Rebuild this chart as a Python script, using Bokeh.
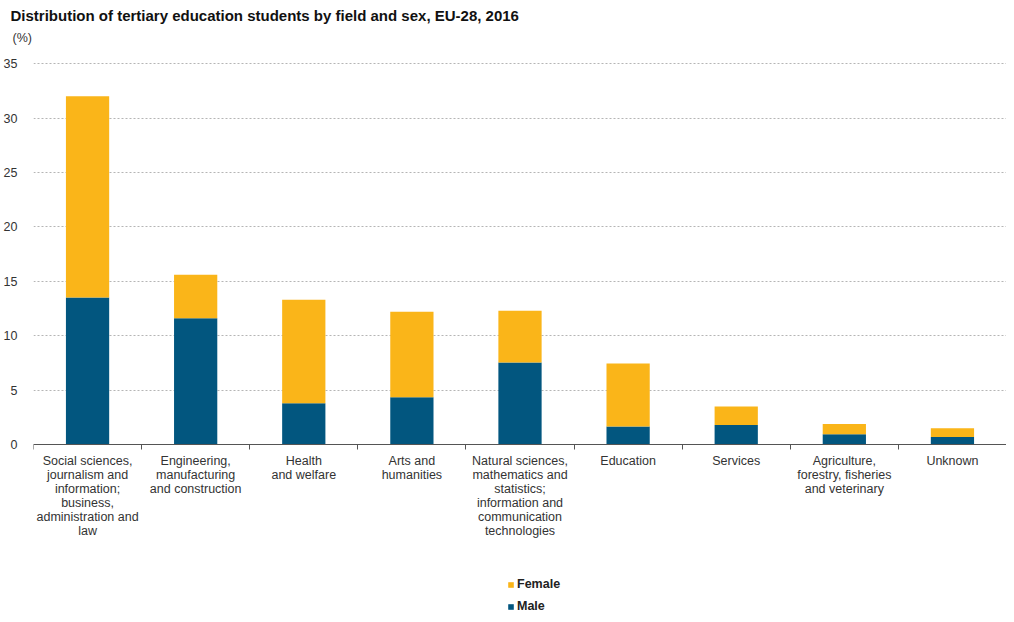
import numpy as np
from bokeh.plotting import figure
from bokeh.models import ColumnDataSource, FixedTicker, Legend, LegendItem, Title, Range1d
from bokeh.embed import file_html
from bokeh.resources import INLINE

categories = [
    "Social sciences,\njournalism and\ninformation;\nbusiness,\nadministration and\nlaw",
    "Engineering,\nmanufacturing\nand construction",
    "Health\nand welfare",
    "Arts and\nhumanities",
    "Natural sciences,\nmathematics and\nstatistics;\ninformation and\ncommunication\ntechnologies",
    "Education",
    "Services",
    "Agriculture,\nforestry, fisheries\nand veterinary",
    "Unknown",
]
male = [13.5, 11.6, 3.8, 4.35, 7.55, 1.65, 1.8, 0.95, 0.7]
female = [18.5, 4.0, 9.5, 7.85, 4.75, 5.8, 1.7, 0.95, 0.8]
y_ticks = [0, 5, 10, 15, 20, 25, 30, 35]

BLUE = "#02567f"
ORANGE = "#fab519"
FONT = "Liberation Sans"

n = len(categories)
x = (np.arange(n) + 0.5).tolist()
src = ColumnDataSource(dict(x=x, male=male, female=female))

# the frame reaches down to the legend area; the category axis is pinned at y=0
p = figure(frame_width=973, frame_height=551, x_range=Range1d(0, n), y_range=Range1d(-15.52, 35.1),
           output_backend="svg", toolbar_location=None,
           min_border_left=0, min_border_right=0, min_border_top=0, min_border_bottom=0)
p.outline_line_color = None
p.background_fill_color = "white"
p.border_fill_color = "white"

rs = p.vbar_stack(["male", "female"], x="x", width=0.4, color=[BLUE, ORANGE],
                  line_color=None, source=src)

# x axis: labels at category centres, minor ticks at boundaries
xa = p.xaxis[0]
xa.fixed_location = 0
xa.ticker = FixedTicker(ticks=x, minor_ticks=list(range(n + 1)))
xa.major_label_overrides = {float(v): c for v, c in zip(x, categories)}
xa.major_tick_out = 0
xa.major_tick_in = 0
xa.minor_tick_out = 5
xa.minor_tick_in = 0
xa.minor_tick_line_color = "#555555"
xa.axis_line_color = "#555555"
xa.major_label_text_font = FONT
xa.major_label_text_font_size = "12.5px"
xa.major_label_text_line_height = 1.0
xa.major_label_text_color = "#333333"
xa.major_label_standoff = 4

ya = p.yaxis[0]
ya.ticker = FixedTicker(ticks=y_ticks)
ya.axis_line_color = None
ya.major_tick_line_color = None
ya.minor_tick_line_color = None
ya.major_label_text_font = FONT
ya.major_label_text_font_size = "12.5px"
ya.major_label_text_color = "#333333"
ya.major_label_standoff = 10

p.xgrid.grid_line_color = None
p.ygrid.ticker = FixedTicker(ticks=y_ticks)
p.ygrid.grid_line_color = "#b5b5b5"
p.ygrid.grid_line_dash = "2 2"

p.title.text = "Distribution of tertiary education students by field and sex, EU-28, 2016"
p.title.text_font = FONT
p.title.text_font_size = "15px"
p.title.text_font_style = "bold"
p.title.text_color = "#111111"
p.title.align = "left"
p.title.offset = -23
p.title.standoff = 9

# spacer between unit label and frame
p.add_layout(Title(text=" ", text_font_size="2px", standoff=14), "above")
unit = Title(text="(%)", text_font=FONT, text_font_size="12.5px", text_font_style="normal",
             text_color="#333333", align="left", offset=-21, standoff=0)
p.add_layout(unit, "above")

legend = Legend(items=[LegendItem(label="Female", renderers=[rs[1]]),
                       LegendItem(label="Male", renderers=[rs[0]])],
                orientation="vertical", location=(474, 0),
                glyph_width=7, glyph_height=7, label_height=12, label_standoff=3,
                spacing=8, padding=0, margin=0,
                border_line_color=None, background_fill_alpha=0,
                label_text_font=FONT, label_text_font_size="12.5px",
                label_text_font_style="bold", label_text_color="#222222")
p.add_layout(legend, "center")

open("out.html", "w").write(file_html(p, INLINE))
